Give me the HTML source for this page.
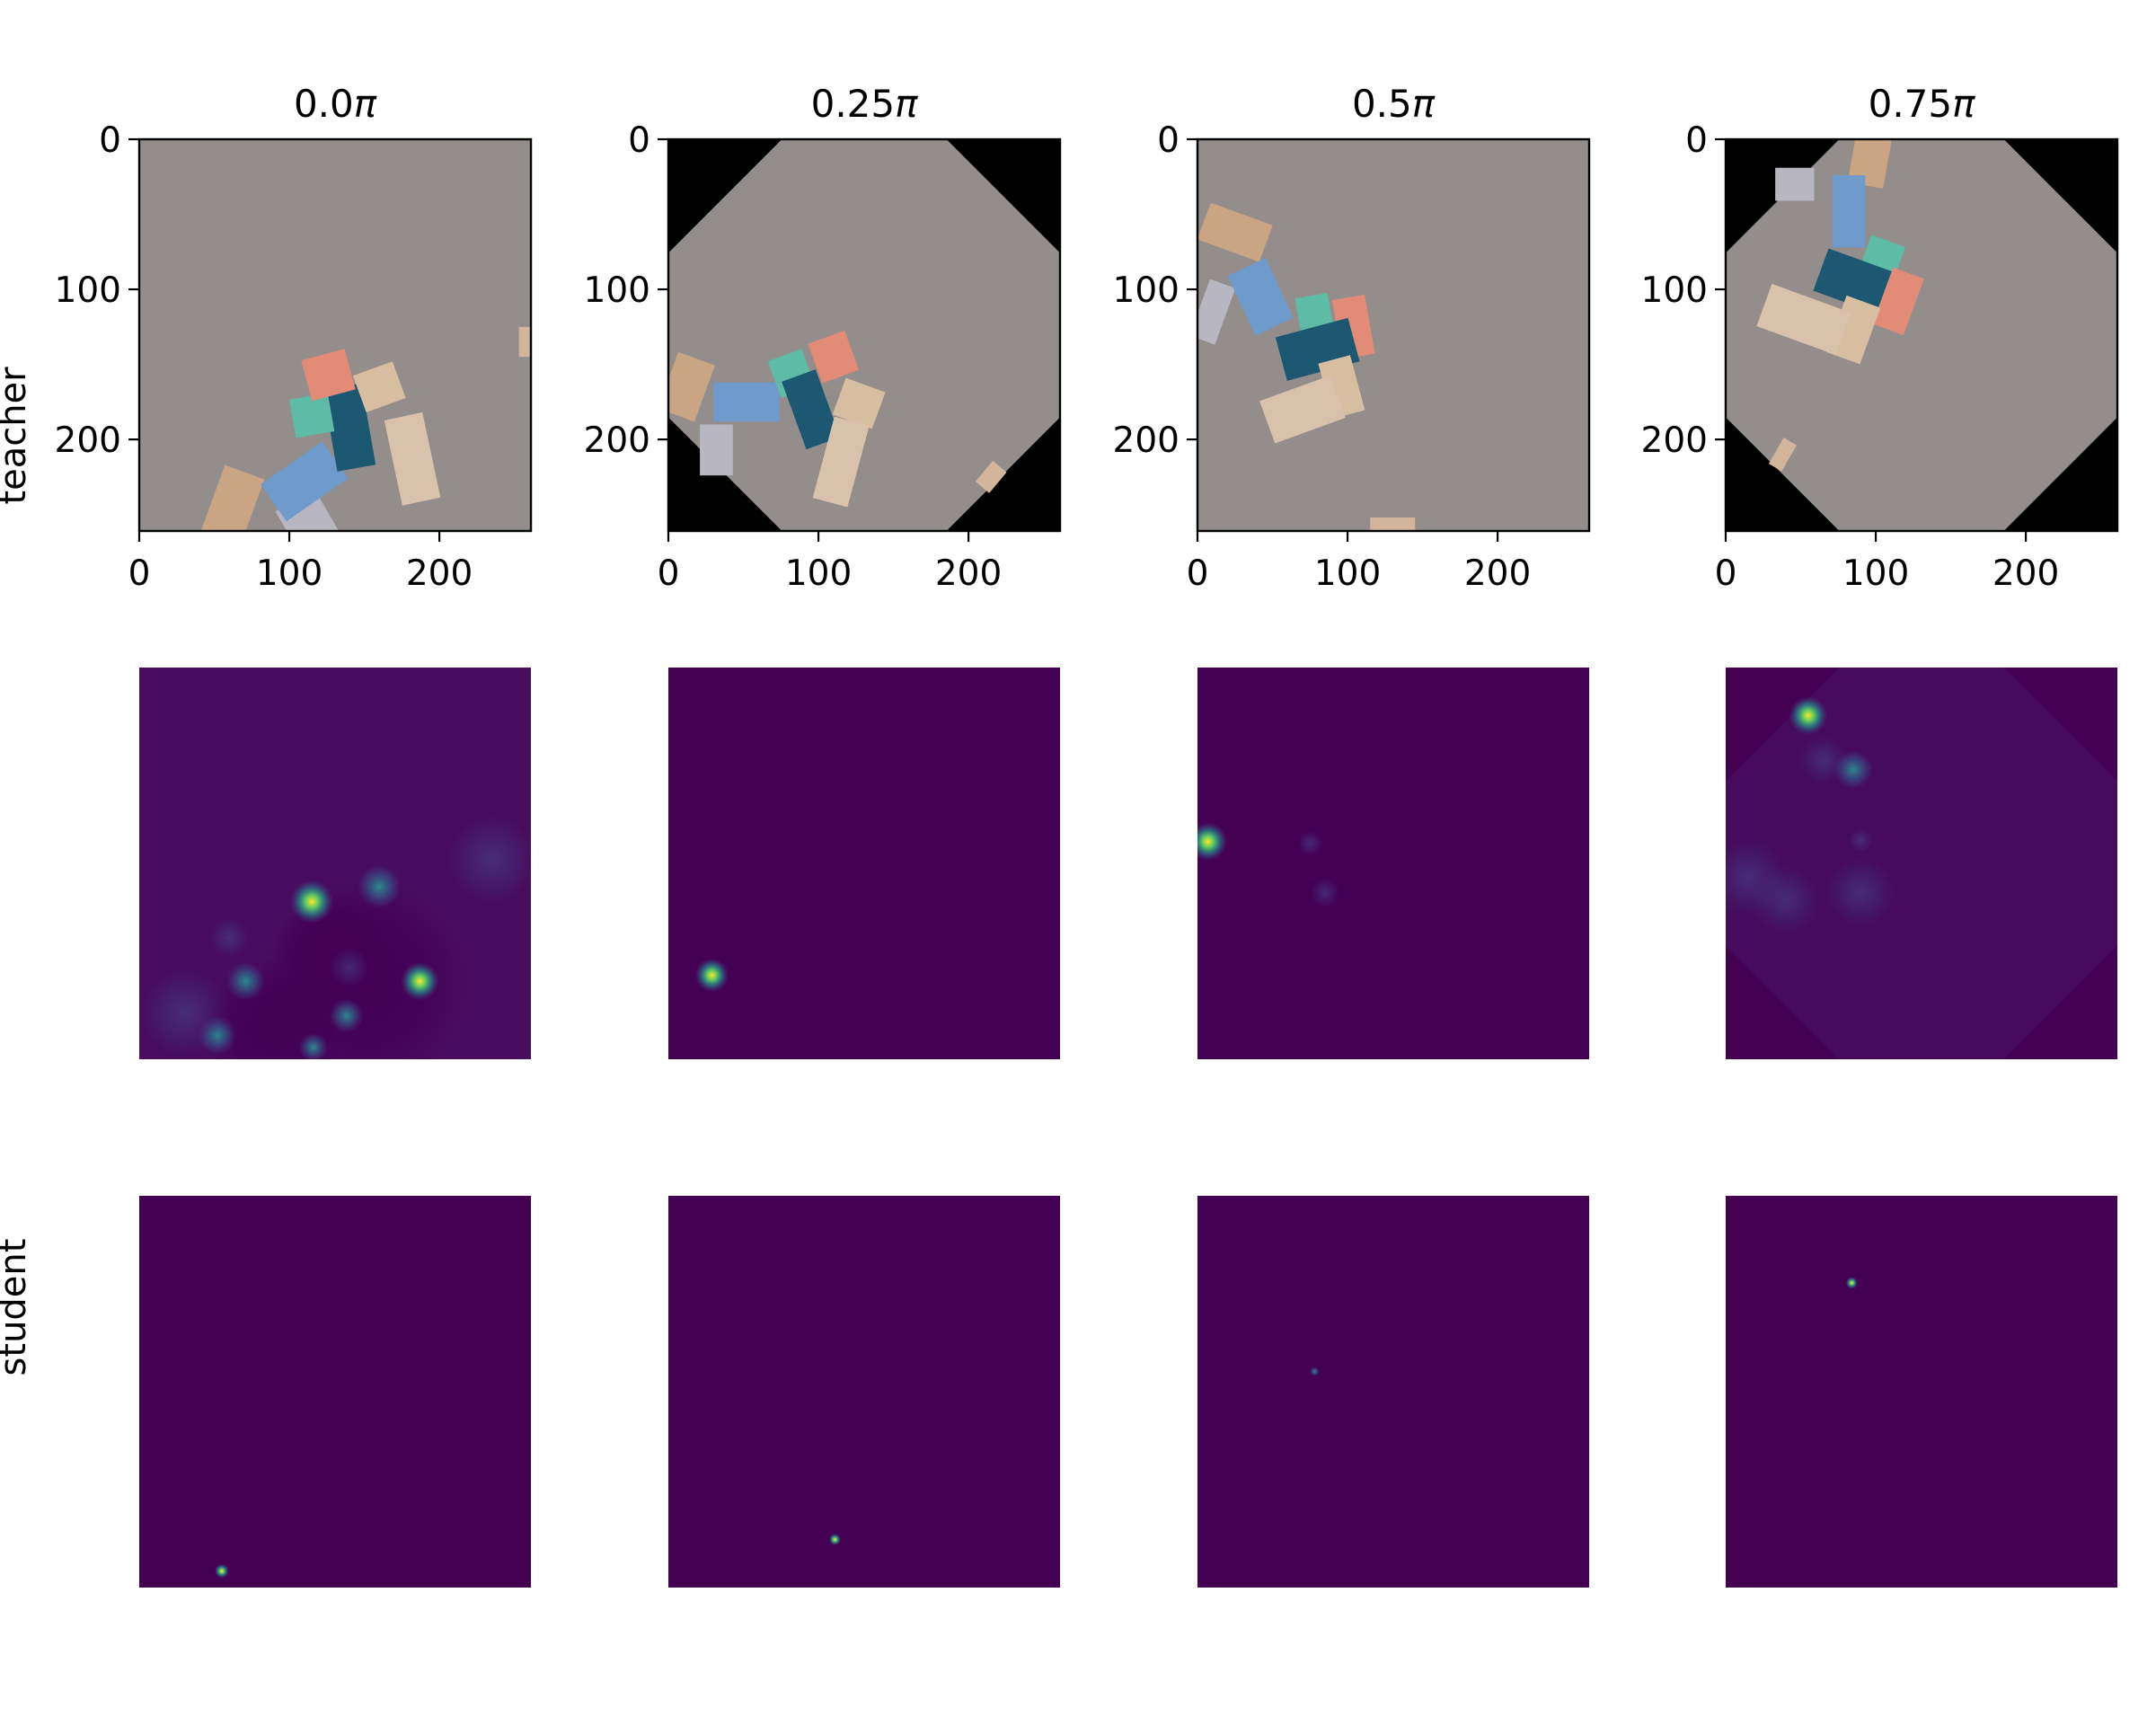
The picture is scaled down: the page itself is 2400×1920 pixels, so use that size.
<!DOCTYPE html>
<html><head><meta charset="utf-8">
<style>
html,body{margin:0;padding:0;background:#fff;}
svg{display:block;font-family:"DejaVu Sans","Liberation Sans",sans-serif;}
</style></head>
<body>
<svg id="fig" width="2400" height="1920" viewBox="0 0 2400 1920" xmlns="http://www.w3.org/2000/svg">
<defs>
  <radialGradient id="hot" cx="50%" cy="50%" r="50%">
    <stop offset="0" stop-color="#fde725"/>
    <stop offset="0.3" stop-color="#5ec962"/>
    <stop offset="0.6" stop-color="#21918c" stop-opacity="0.7"/>
    <stop offset="1" stop-color="#3b528b" stop-opacity="0"/>
  </radialGradient>
  <radialGradient id="warm" cx="50%" cy="50%" r="50%">
    <stop offset="0" stop-color="#2a8a8c"/>
    <stop offset="0.5" stop-color="#31688e" stop-opacity="0.6"/>
    <stop offset="1" stop-color="#3b528b" stop-opacity="0"/>
  </radialGradient>
  <radialGradient id="faint" cx="50%" cy="50%" r="50%">
    <stop offset="0" stop-color="#443a83" stop-opacity="0.7"/>
    <stop offset="1" stop-color="#443a83" stop-opacity="0"/>
  </radialGradient>
  <radialGradient id="dark" cx="50%" cy="50%" r="50%">
    <stop offset="0" stop-color="#440154" stop-opacity="1"/>
    <stop offset="0.6" stop-color="#440154" stop-opacity="0.8"/>
    <stop offset="1" stop-color="#440154" stop-opacity="0"/>
  </radialGradient>
</defs>
<text x="14" y="485" font-size="40" text-anchor="middle" transform="rotate(-90 14 485)" dy="14">teacher</text>
<text x="14" y="1455" font-size="40" text-anchor="middle" transform="rotate(-90 14 1455)" dy="14">student</text>
<g id="panels"></g>
</svg>
<script>
const titles = ["0.0","0.25","0.5","0.75"];
const ticks = [0,100,200];
const extent = 261;
// blocks per photo: [cx, cy, w, h, angle, color] in data units
const photo0 = [[60,250,28,60,20,"#c9a583"],[115,260,30,45,-30,"#b8b6c0"],[110,228,50,30,-35,"#6f9bcc"],[140,192,26,55,-10,"#1d5873"],[115,184,26,26,-10,"#5dbba6"],[126,157,30,28,-15,"#e28b77"],[160,165,28,26,-20,"#d8bea0"],[182,213,26,58,-12,"#d9c2ab"],[258,135,10,20,0,"#d2b59a"]];
const photo1 = [[12,165,26,40,20,"#c9a583"],[52,175,44,26,0,"#6f9bcc"],[82,156,24,26,-20,"#5dbba6"],[110,145,26,28,-20,"#e28b77"],[95,180,24,48,-20,"#1d5873"],[127,176,28,26,20,"#d8bea0"],[115,215,24,56,15,"#d9c2ab"],[32,207,22,34,0,"#b8b6c0"],[215,225,12,18,40,"#d2b59a"]];
const photo2 = [[25,62,44,26,20,"#c9a583"],[10,115,18,40,20,"#b8b6c0"],[42,105,28,44,-25,"#6f9bcc"],[78,117,22,26,-10,"#5dbba6"],[104,125,22,40,-10,"#e28b77"],[80,140,50,30,-15,"#1d5873"],[96,165,22,38,-15,"#d8bea0"],[70,180,50,30,-20,"#d9c2ab"],[130,258,30,12,0,"#d2b59a"]];
const photo3 = [[46,30,26,22,0,"#b8b6c0"],[96,14,24,34,10,"#c9a583"],[82,48,22,48,0,"#6f9bcc"],[104,80,24,26,20,"#5dbba6"],[86,95,48,30,20,"#1d5873"],[115,108,22,40,20,"#e28b77"],[85,127,24,40,20,"#d8bea0"],[52,120,56,30,20,"#d9c2ab"],[38,210,10,20,30,"#d2b59a"]];
const photos = [photo0, photo1, photo2, photo3];
const octagon = [false, true, false, true];
// heatmap spots [x, y, r, kind]
const teacher0 = [[150,210,45,"dark"],[90,240,30,"dark"],[130,190,25,"dark"],[115,156,9,"hot"],[187,209,8,"hot"],[52,245,8,"warm"],[71,209,8,"warm"],[60,180,8,"faint"],[160,146,9,"warm"],[138,232,7,"warm"],[116,253,6,"warm"],[235,128,18,"faint"],[30,230,18,"faint"],[140,200,8,"faint"]];
const teacher1 = [[29,205,7,"hot"]];
const teacher2 = [[7,116,8,"hot"],[75,117,5,"faint"],[85,150,6,"faint"]];
const teacher3 = [[55,32,8,"hot"],[85,68,8,"warm"],[65,62,10,"faint"],[90,115,5,"faint"],[15,140,16,"faint"],[90,150,14,"faint"],[40,155,14,"faint"]];
const teacherHeat = [teacher0, teacher1, teacher2, teacher3];
const student0 = [[55,250,3,"hot"]];
const student1 = [[111,229,2.5,"hot"]];
const student2 = [[78,117,2,"warm"]];
const student3 = [[84,58,2.5,"hot"]];
const studentHeat = [student0, student1, student2, student3];

const NS = "http://www.w3.org/2000/svg";
const colX = [155,744,1333,1921];
const rowY = [155,743,1331];
const size = 436;
const root = document.getElementById("panels");
function mk(tag, attrs, parent){const e=document.createElementNS(NS,tag);for(const k in attrs)e.setAttribute(k,attrs[k]);(parent||root).appendChild(e);return e;}
function sx(v,i){return colX[i]+v/extent*size;}
function sy(v,r){return rowY[r]+v/extent*size;}
function octPts(x0,y0){const c=size*0.29;return [[x0+c,y0],[x0+size-c,y0],[x0+size,y0+c],[x0+size,y0+size-c],[x0+size-c,y0+size],[x0+c,y0+size],[x0,y0+size-c],[x0,y0+c]].map(p=>p.join(",")).join(" ");}

for(let i=0;i<4;i++){
  const g=mk("g",{});
  
  
  const x0=colX[i], y0=rowY[0];
  const clip=mk("clipPath",{id:"c"+i},g);
  mk("rect",{x:x0,y:y0,width:size,height:size},clip);
  const inner=mk("g",{"clip-path":"url(#c"+i+")"},g);
  if(octagon[i]){
    mk("rect",{x:x0,y:y0,width:size,height:size,fill:"#000"},inner);
    mk("polygon",{points:octPts(x0,y0),fill:"#938d8b"},inner);
  } else {
    mk("rect",{x:x0,y:y0,width:size,height:size,fill:"#938d8b"},inner);
  }
  photos[i].forEach(b=>{
    const cx=sx(b[0],i), cy=sy(b[1],0), w=b[2]/extent*size, h=b[3]/extent*size;
    const r=mk("rect",{x:cx-w/2,y:cy-h/2,width:w,height:h,fill:b[5],transform:"rotate("+b[4]+" "+cx+" "+cy+")"},inner);
    
    
  });
  mk("rect",{x:x0,y:y0,width:size,height:size,fill:"none",stroke:"#000","stroke-width":2.4},g);
  const t=mk("text",{x:x0+size/2,y:130,"font-size":42,"text-anchor":"middle"});
  t.textContent=titles[i];
  const pi=mk("tspan",{"font-style":"italic"},t);
  pi.textContent="π";
  
  
  ticks.forEach(v=>{
    const yy=sy(v,0);
    mk("line",{x1:x0-12,x2:x0,y1:yy,y2:yy,stroke:"#000","stroke-width":2.2});
    const yl=mk("text",{x:x0-20,y:yy+14,"font-size":39,"text-anchor":"end"});
    yl.textContent=v;
    
    
    const xx=sx(v,i);
    mk("line",{x1:xx,x2:xx,y1:y0+size,y2:y0+size+12,stroke:"#000","stroke-width":2.2});
    const xl=mk("text",{x:xx,y:y0+size+60,"font-size":39,"text-anchor":"middle"});
    xl.textContent=v;
    
    
  });
}
function heat(row, data, i, bg, oct){
  const g=mk("g",{});
  
  
  const x0=colX[i], y0=rowY[row];
  mk("rect",{x:x0,y:y0,width:size,height:size,fill:"#440154"},g);
  if(bg) mk("rect",{x:x0,y:y0,width:size,height:size,fill:bg},g);
  if(oct) mk("polygon",{points:octPts(x0,y0),fill:"#460b5d"},g);
  const clip=mk("clipPath",{id:"h"+row+i},g);
  mk("rect",{x:x0,y:y0,width:size,height:size},clip);
  const inner=mk("g",{"clip-path":"url(#h"+row+i+")"},g);
  data.forEach(p=>{
    const c=mk("circle",{cx:sx(p[0],i),cy:sy(p[1],row),r:p[2]/extent*size*1.6,fill:"url(#"+p[3]+")"},inner);
    
    
  });
}
for(let i=0;i<4;i++){
  heat(1, teacherHeat[i], i, i===0?"#480d60":null, i===3);
  heat(2, studentHeat[i], i, null, false);
}
</script>
</body></html>
